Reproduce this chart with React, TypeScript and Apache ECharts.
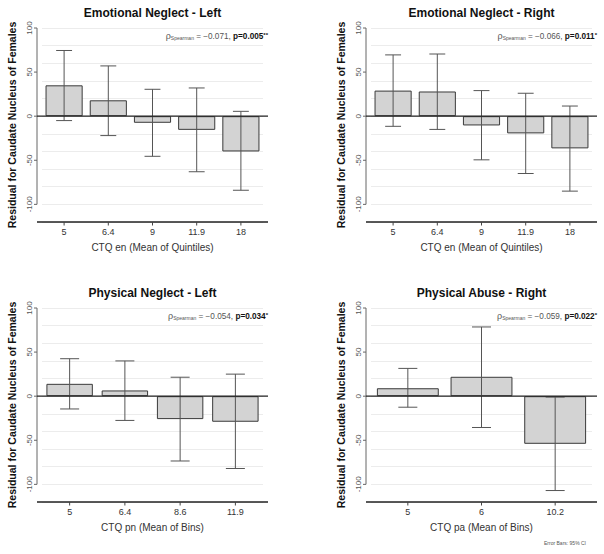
import React, { useEffect, useRef } from 'react';
import * as echarts from 'echarts';

// ---- Data ----
const enCategories = ['5', '6.4', '9', '11.9', '18'];
const enLeftMeans = [35, 18, -7.5, -15.5, -40];
const enLeftLower = [-5, -22, -45.5, -63, -84];
const enLeftUpper = [74.5, 57, 30.5, 32, 5.5];

const enRightMeans = [29, 28, -10.5, -19.5, -36.5];
const enRightLower = [-11.5, -15, -49.5, -65, -85];
const enRightUpper = [69.5, 70.5, 29, 26, 11.5];

const pnCategories = ['5', '6.4', '8.6', '11.9'];
const pnLeftMeans = [14, 6.5, -26, -29];
const pnLeftLower = [-14.5, -27.5, -73.5, -82];
const pnLeftUpper = [42.5, 40, 21.5, 25];

const paCategories = ['5', '6', '10.2'];
const paRightMeans = [9, 22, -54];
const paRightLower = [-12.5, -35.5, -107];
const paRightUpper = [31.5, 78.5, -1];

const panelTitles = ['Emotional Neglect - Left', 'Emotional Neglect - Right', 'Physical Neglect - Left', 'Physical Abuse - Right'];
const xAxisNames = ['CTQ en (Mean of Quintiles)', 'CTQ en (Mean of Quintiles)', 'CTQ pn (Mean of Bins)', 'CTQ pa (Mean of Bins)'];
const rhoValues = ['\u22120.071', '\u22120.066', '\u22120.054', '\u22120.059'];
const pValues = ['0.005', '0.011', '0.034', '0.022'];
const pStars = ['**', '*', '*', '*'];

const yTickLabels = [-100, -50, 0, 50, 100];
const yAxisMin = -120;
const yAxisMax = 100;
const yLineMin = -100;
const yAxisTitle = 'Residual for Caudate Nucleus of Females';
const footnote = 'Error Bars: 95% CI';

const panelData = [
  { cats: enCategories, means: enLeftMeans, lower: enLeftLower, upper: enLeftUpper },
  { cats: enCategories, means: enRightMeans, lower: enRightLower, upper: enRightUpper },
  { cats: pnCategories, means: pnLeftMeans, lower: pnLeftLower, upper: pnLeftUpper },
  { cats: paCategories, means: paRightMeans, lower: paRightLower, upper: paRightUpper },
];

// ---- Layout ----
const FONT = '"Liberation Sans", Arial, Helvetica, sans-serif';
const gridRects = [
  { left: 42, top: 28 },
  { left: 371, top: 28 },
  { left: 42, top: 308 },
  { left: 371, top: 308 },
];
const GRID_W = 221;
const GRID_H = 194;
const EXT = 5;

export default function App() {
  const ref = useRef<HTMLDivElement>(null);

  useEffect(() => {
    if (!ref.current) return;
    const chart = echarts.init(ref.current, undefined, { renderer: 'svg' });

    const grid = gridRects.map((g) => ({ left: g.left, top: g.top, width: GRID_W, height: GRID_H }));

    const xAxis = panelData.map((p, i) => ({
      type: 'category',
      gridIndex: i,
      data: p.cats,
      axisLine: { show: false, onZero: false },
      axisTick: { show: false },
      axisLabel: { fontSize: 9, color: '#333', fontFamily: FONT, margin: 5 },
      name: xAxisNames[i],
      nameLocation: 'middle',
      nameGap: 20,
      nameTextStyle: { fontSize: 10, color: '#333', fontFamily: FONT },
    }));

    const yAxis = panelData.map((_, i) => ({
      type: 'value',
      gridIndex: i,
      min: yAxisMin,
      max: yAxisMax,
      interval: 20,
      offset: EXT,
      axisLine: { show: false },
      axisTick: { show: false },
      axisLabel: {
        customValues: yTickLabels,
        rotate: 90,
        fontSize: 8,
        color: '#555',
        fontFamily: FONT,
        margin: 4,
      },
      splitLine: { show: true, lineStyle: { color: '#ececec', width: 1 } },
      name: yAxisTitle,
      nameLocation: 'middle',
      nameRotate: 90,
      nameGap: 20,
      nameTextStyle: { fontSize: 10.5, fontWeight: 'bold', color: '#111', fontFamily: FONT },
    }));

    const series: any[] = [];
    panelData.forEach((p, i) => {
      series.push({
        type: 'bar',
        xAxisIndex: i,
        yAxisIndex: i,
        data: p.means,
        barWidth: '84%',
        itemStyle: { color: '#d3d3d3', borderColor: '#3a3a3a', borderWidth: 1 },
        z: 2,
      });
      series.push({
        type: 'custom',
        xAxisIndex: i,
        yAxisIndex: i,
        data: p.cats.map((_, j) => [j, p.lower[j], p.upper[j]]),
        encode: { x: 0, y: [1, 2] },
        z: 4,
        renderItem: (params: any, api: any) => {
          const idx = api.value(0);
          const x = api.coord([idx, 0])[0];
          const lo = api.coord([idx, api.value(1)])[1];
          const hi = api.coord([idx, api.value(2)])[1];
          const band = api.size([1, 0])[0];
          const half = Math.min(band * 0.18, 9.5);
          const st = { stroke: '#555', lineWidth: 1 };
          return {
            type: 'group',
            children: [
              { type: 'line', shape: { x1: x, y1: lo, x2: x, y2: hi }, style: st },
              { type: 'line', shape: { x1: x - half, y1: lo, x2: x + half, y2: lo }, style: st },
              { type: 'line', shape: { x1: x - half, y1: hi, x2: x + half, y2: hi }, style: st },
            ],
          };
        },
      });
      series.push({
        type: 'custom',
        xAxisIndex: i,
        yAxisIndex: i,
        data: [[0, 0]],
        encode: { x: 0, y: 1 },
        z: 5,
        silent: true,
        renderItem: (params: any, api: any) => {
          const cs = params.coordSys;
          const x0 = cs.x - EXT;
          const x1 = cs.x + cs.width + EXT;
          const yTop = api.coord([0, yAxisMax])[1];
          const yBot = api.coord([0, yLineMin])[1];
          const yZero = api.coord([0, 0])[1];
          const yBase = cs.y + cs.height;
          const children: any[] = [
            { type: 'line', shape: { x1: x0, y1: yTop, x2: x0, y2: yBot }, style: { stroke: '#666', lineWidth: 1 } },
            { type: 'line', shape: { x1: x0, y1: yBase, x2: x1, y2: yBase }, style: { stroke: '#222', lineWidth: 1.5 } },
            { type: 'line', shape: { x1: x0, y1: yZero, x2: x1, y2: yZero }, style: { stroke: '#222', lineWidth: 1.3 } },
          ];
          yTickLabels.forEach((v) => {
            const y = api.coord([0, v])[1];
            children.push({ type: 'line', shape: { x1: x0 - 3, y1: y, x2: x0, y2: y }, style: { stroke: '#666', lineWidth: 1 } });
          });
          p.cats.forEach((_, j) => {
            const x = api.coord([j, 0])[0];
            children.push({ type: 'line', shape: { x1: x, y1: yBase, x2: x, y2: yBase + 3.5 }, style: { stroke: '#444', lineWidth: 1 } });
          });
          return { type: 'group', children };
        },
      });
    });

    const graphic: any[] = [];
    gridRects.forEach((g, i) => {
      const cx = g.left + GRID_W / 2;
      graphic.push({
        type: 'text',
        x: cx,
        y: g.top - 15,
        style: {
          text: panelTitles[i],
          fontSize: 12,
          fontWeight: 'bold',
          fontFamily: FONT,
          fill: '#111',
          align: 'center',
          verticalAlign: 'middle',
        },
      });
      graphic.push({
        type: 'text',
        x: g.left + GRID_W + EXT,
        y: g.top + 8,
        style: {
          text: `{r|\u03c1}{s|Spearman}{n| = ${rhoValues[i]}, }{b|p=${pValues[i]}}{st|${pStars[i]}}`,
          align: 'right',
          verticalAlign: 'middle',
          fontFamily: FONT,
          rich: {
            r: { fontSize: 9, fill: '#555', fontFamily: FONT },
            s: { fontSize: 5, fill: '#555', fontFamily: FONT, verticalAlign: 'bottom', padding: [3, 0, 0, 0] },
            n: { fontSize: 8.2, fill: '#555', fontFamily: FONT },
            b: { fontSize: 8.2, fontWeight: 'bold', fill: '#111', fontFamily: FONT },
            st: { fontSize: 6, fontWeight: 'bold', fill: '#111', fontFamily: FONT, verticalAlign: 'top', padding: [0, 0, 2, 0] },
          },
        },
      });
    });
    graphic.push({
      type: 'text',
      x: 586,
      y: 543,
      style: { text: footnote, fontSize: 5, fill: '#555', fontFamily: FONT, align: 'right', verticalAlign: 'middle' },
    });

    chart.setOption({
      animation: false,
      backgroundColor: '#ffffff',
      grid,
      xAxis,
      yAxis,
      series,
      graphic,
    } as any);

    return () => chart.dispose();
  }, []);

  return (
    <div
      ref={ref}
      style={{ position: 'fixed', left: 0, top: 0, width: 604, height: 554, background: '#fff' }}
    />
  );
}
